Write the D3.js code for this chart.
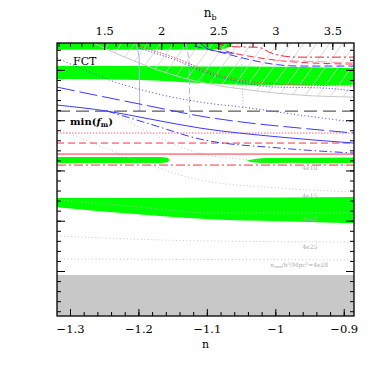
<!DOCTYPE html>
<html>
<head>
<meta charset="utf-8">
<script src="https://cdn.jsdelivr.net/npm/d3@7"></script>
<style>
  body { margin: 0; background: #fff; }
  text { font-family: "DejaVu Serif", serif; }
</style>
</head>
<body>
<div id="chart"></div>
<script>
// axis ranges (n on the bottom, n_b = 6n + 9 on top, y has no labels)
const nRange = [-1.319, -0.885];
const yRange = [0.105, 5.535];
const nTicks = [-1.3, -1.2, -1.1, -1.0, -0.9];
const nbTicks = [1.5, 2, 2.5, 3, 3.5];
const yTicks = [1, 2, 3, 4, 5];

// excluded region at the bottom
const greyTop = 0.92;

// allowed regions (green): [n, low, high]
const greenTop = [[-1.319, 5.40, 5.535], [-1.10, 5.40, 5.535], [-1.075, 5.42, 5.535], [-1.064, 5.47, 5.535]];
const greenBand2 = [[-1.319, 4.82, 5.08], [-1.198, 4.80, 5.08], [-1.110, 4.74, 5.07], [-1.037, 4.70, 5.07], [-0.964, 4.69, 5.06], [-0.885, 4.70, 5.04]];
const greenBand3a = [[-1.319, 3.15, 3.27], [-1.175, 3.15, 3.27], [-1.163, 3.155, 3.265], [-1.157, 3.17, 3.25], [-1.155, 3.21, 3.21]];
const greenBand3b = [[-1.041, 3.19, 3.20], [-1.030, 3.16, 3.23], [-1.010, 3.15, 3.25], [-0.885, 3.15, 3.26]];
const greenBand4 = [[-1.319, 2.27, 2.45], [-1.256, 2.19, 2.45], [-1.183, 2.11, 2.45], [-1.096, 2.03, 2.46], [-0.993, 1.99, 2.46], [-0.885, 1.95, 2.47]];

// lower edge of the hatched region
const hatchEdge = [[-1.266, 5.535], [-1.227, 5.294], [-1.183, 5.056], [-1.139, 4.857], [-1.096, 4.718], [-1.037, 4.598], [-0.964, 4.499], [-0.885, 4.459]];

// light blue near-vertical curves
const lightBlueSolid = [[-1.204, 5.535], [-1.201, 5.39], [-1.199, 5.27], [-1.198, 4.18]];
const lightBlueDashed = [[-1.131, 5.535], [-1.128, 5.35], [-1.126, 5.19], [-1.125, 4.04]];
const lightBlueDotted = [[-1.050, 5.23], [-1.047, 4.24]];

// curves near the top
const redDottedTop = [[-1.198, 5.47], [-1.139, 5.20], [-1.096, 4.96], [-1.052, 4.80], [-0.993, 4.72], [-0.885, 4.68]];
const blueDottedTop = [[-1.198, 5.43], [-1.139, 5.16], [-1.096, 4.92], [-1.052, 4.76], [-1.004, 4.66], [-0.931, 4.64], [-0.885, 4.58]];
const redDashDotTop = [[-1.088, 5.535], [-1.060, 5.46], [-1.025, 5.45], [-1.005, 5.33], [-0.969, 5.254], [-0.885, 5.254]];
const redDashedTop = [[-1.088, 5.45], [-1.066, 5.35], [-1.037, 5.27], [-0.969, 5.155], [-0.885, 5.115]];
const pinkDashedTop = [[-1.0, 5.19], [-0.885, 5.14]];
const blueDashedTop = [[-1.118, 5.47], [-1.081, 5.354], [-1.047, 5.234], [-1.004, 5.115], [-0.964, 5.076], [-0.885, 5.076]];
const blueSolidTop = [[-1.110, 5.535], [-1.100, 5.43], [-1.085, 5.37], [-1.06, 5.33]];

// main blue family
const blueDotted = [[-1.319, 5.234], [-1.285, 5.036], [-1.242, 4.797], [-1.183, 4.559], [-1.110, 4.360], [-1.037, 4.241], [-0.964, 4.101], [-0.885, 3.962]];
const blueLongDash = [[-1.319, 4.658], [-1.256, 4.479], [-1.183, 4.280], [-1.110, 4.082], [-1.037, 3.943], [-0.964, 3.843], [-0.885, 3.744]];
const blueSolid = [[-1.319, 4.300], [-1.246, 4.181], [-1.183, 4.022], [-1.110, 3.843], [-0.993, 3.664], [-0.885, 3.545]];
const blueDashDot = [[-1.246, 4.181], [-1.183, 3.923], [-1.110, 3.624], [-0.993, 3.445], [-0.885, 3.346]];

// horizontal levels
const blackDashedLevel = 4.18;
const redLevels = [3.744, 3.545, 3.326, 3.107]; // dotted, dashed, solid, dash-dot

// n_mm contours (grey dotted)
const contour10 = [[-1.242, 4.20], [-1.183, 3.75], [-1.110, 3.34], [-1.037, 3.21], [-0.964, 3.15], [-0.885, 3.09]];
const contour15 = [[-1.319, 3.843], [-1.256, 3.486], [-1.183, 3.108], [-1.110, 2.809], [-0.993, 2.650], [-0.885, 2.571]];
const contour20 = [[-1.319, 2.412], [-1.212, 2.29], [-1.096, 2.153], [-0.993, 2.153], [-0.885, 2.153]];
const contour25 = [[-1.319, 1.696], [-1.096, 1.596], [-0.885, 1.577]];
const contour28 = [[-1.319, 1.239], [-0.885, 1.219]];
const contourLabels = ["4e10", "4e15", "4e20", "4e25"];
const contourLabelPos = [[-0.9496, 3.008], [-0.9496, 2.451], [-0.9496, 1.994], [-0.9496, 1.437]];

const margin = { top: 43, right: 20, bottom: 58, left: 57 },
      width = 374 - margin.left - margin.right,
      height = 374 - margin.top - margin.bottom;

const svg = d3.select("#chart")
    .append("svg")
    .attr("width", 374)
    .attr("height", 374)
    .append("g")
    .attr("transform", `translate(${margin.left},${margin.top})`);

const x = d3.scaleLinear().domain(nRange).range([0, width]);
const xb = d3.scaleLinear().domain(nRange.map(n => 6 * n + 9)).range([0, width]);
const y = d3.scaleLinear().domain(yRange).range([height, 0]);

// clip + hatch pattern
const defs = svg.append("defs");
defs.append("clipPath").attr("id", "clip")
    .append("rect").attr("width", width).attr("height", height);
const pat = defs.append("pattern")
    .attr("id", "hatch")
    .attr("patternUnits", "userSpaceOnUse")
    .attr("width", 13).attr("height", 18);
pat.append("line")
    .attr("x1", -1).attr("y1", 19.4).attr("x2", 14).attr("y2", -1.4)
    .attr("stroke", "#cfcfcf").attr("stroke-width", 0.8);

const plot = svg.append("g").attr("clip-path", "url(#clip)");

const line = d3.line().x(d => x(d[0])).y(d => y(d[1])).curve(d3.curveMonotoneX);
const vline = d3.line().x(d => x(d[0])).y(d => y(d[1]));
const band = d3.area().x(d => x(d[0])).y0(d => y(d[1])).y1(d => y(d[2])).curve(d3.curveMonotoneX);

// grey excluded region
plot.append("rect")
    .attr("x", 0).attr("y", y(greyTop))
    .attr("width", width).attr("height", height - y(greyTop))
    .attr("fill", "#c8c8c8");

// green regions
[greenTop, greenBand2, greenBand3a, greenBand3b, greenBand4].forEach(b => {
    plot.append("path").datum(b).attr("d", band).attr("fill", "#00ff00");
});

// hatched region above the grey edge
const hatchArea = d3.area().x(d => x(d[0])).y0(d => y(d[1])).y1(y(yRange[1])).curve(d3.curveMonotoneX);
plot.append("path").datum(hatchEdge)
    .attr("d", hatchArea)
    .attr("fill", "url(#hatch)");
plot.append("path").datum(hatchEdge).attr("d", line)
    .attr("fill", "none").attr("stroke", "#c8c8c8").attr("stroke-width", 1);

// grey contours
[contour10, contour15, contour20, contour25, contour28].forEach(c => {
    plot.append("path").datum(c).attr("d", line)
        .attr("fill", "none").attr("stroke", "#bdbdbd")
        .attr("stroke-width", 0.9).attr("stroke-dasharray", "1,2.5");
});

// light blue curves
const lightBlue = "#aab0ff";
[[lightBlueSolid, null], [lightBlueDashed, "6,3"], [lightBlueDotted, "1,2"]].forEach(([c, dash]) => {
    plot.append("path").datum(c).attr("d", vline)
        .attr("fill", "none").attr("stroke", lightBlue)
        .attr("stroke-width", 1).attr("stroke-dasharray", dash);
});

// horizontal lines
const redDash = ["1.5,1.5", "7,4", null, "9,3,2,3"];
redLevels.forEach((v, i) => {
    plot.append("line")
        .attr("x1", 0).attr("x2", width)
        .attr("y1", y(v)).attr("y2", y(v))
        .attr("stroke", i === 0 ? "#ff6680" : "#ff3040")
        .attr("stroke-width", 1)
        .attr("stroke-dasharray", redDash[i]);
});
plot.append("line")
    .attr("x1", 0).attr("x2", width)
    .attr("y1", y(blackDashedLevel)).attr("y2", y(blackDashedLevel))
    .attr("stroke", "#333").attr("stroke-width", 1)
    .attr("stroke-dasharray", "13,6");

// coloured curves
const curves = [
    { d: redDottedTop, c: "#ff4060", dash: "1.5,1.5" },
    { d: blueDottedTop, c: "#3a3aff", dash: "1,2" },
    { d: redDashDotTop, c: "#e8203c", dash: "9,3,2,3" },
    { d: redDashedTop, c: "#ff3040", dash: "7,4" },
    { d: pinkDashedTop, c: "#ff9aa8", dash: "10,4" },
    { d: blueDashedTop, c: "#3a3aff", dash: "8,4" },
    { d: blueSolidTop, c: "#3a3aff", dash: null },
    { d: blueDotted, c: "#3a3aff", dash: "1,2.5" },
    { d: blueLongDash, c: "#3a3aff", dash: "18,5" },
    { d: blueSolid, c: "#3a3aff", dash: null },
    { d: blueDashDot, c: "#3a3aff", dash: "8,3,1.5,3" }
];
curves.forEach(s => {
    plot.append("path").datum(s.d).attr("d", line)
        .attr("fill", "none").attr("stroke", s.c)
        .attr("stroke-width", 1).attr("stroke-dasharray", s.dash);
});

// contour labels
contourLabels.forEach((t, i) => {
    plot.append("text")
        .attr("x", x(contourLabelPos[i][0])).attr("y", y(contourLabelPos[i][1]))
        .attr("text-anchor", "middle")
        .style("font-size", "6px").attr("fill", "#aaa")
        .text(t);
});
const nmm = plot.append("text")
    .attr("x", x(-0.965)).attr("y", y(1.08))
    .attr("text-anchor", "middle")
    .style("font-size", "6px").attr("fill", "#aaa");
nmm.append("tspan").text("n");
nmm.append("tspan").attr("dy", 1.5).style("font-size", "4px").text("mm");
nmm.append("tspan").attr("dy", -1.5).text("/h");
nmm.append("tspan").attr("dy", -2).style("font-size", "4px").text("3");
nmm.append("tspan").attr("dy", 2).text("/Mpc");
nmm.append("tspan").attr("dy", -2).style("font-size", "4px").text("3");
nmm.append("tspan").attr("dy", 2).text("=4e28");

// labels inside the plot
svg.append("text")
    .attr("x", x(-1.2956)).attr("y", y(5.095))
    .style("font-size", "11px")
    .text("FCT");
const mf = svg.append("text")
    .attr("x", x(-1.3)).attr("y", y(3.90))
    .style("font-size", "10px").style("font-weight", "bold");
mf.append("tspan").text("min(");
mf.append("tspan").style("font-style", "italic").text("f");
mf.append("tspan").attr("dy", 2).style("font-size", "7px").text("m");
mf.append("tspan").attr("dy", -2).text(")");

// axes: major and minor ticks on all four sides
const fmt = d3.format("~g");
const nMinor = d3.range(-132, -87).filter(k => k % 2 === 0).map(k => k / 100).filter(v => v >= nRange[0] && v <= nRange[1]);
const nbMinor = d3.range(10, 38).map(k => k / 10).filter(v => v >= xb.domain()[0] && v <= xb.domain()[1]);
const yMinor = d3.range(1, 28).map(k => k / 5);

function ticks(g) { g.select(".domain").remove(); g.selectAll("line").attr("stroke", "#000"); }

svg.append("g").attr("transform", `translate(0,${height})`)
    .call(d3.axisBottom(x).tickValues(nMinor).tickSize(-4).tickFormat("")).call(ticks);
svg.append("g").attr("transform", `translate(0,${height})`)
    .call(d3.axisBottom(x).tickValues(nTicks).tickSize(-7).tickPadding(9).tickFormat(fmt))
    .call(ticks)
    .selectAll("text").style("font-size", "11.5px").style("font-family", "DejaVu Serif").attr("fill", "#000");

svg.append("g")
    .call(d3.axisTop(xb).tickValues(nbMinor).tickSize(-4).tickFormat("")).call(ticks);
svg.append("g")
    .call(d3.axisTop(xb).tickValues(nbTicks).tickSize(-7).tickPadding(8).tickFormat(fmt))
    .call(ticks)
    .selectAll("text").style("font-size", "11.5px").style("font-family", "DejaVu Serif").attr("fill", "#000");

svg.append("g")
    .call(d3.axisLeft(y).tickValues(yMinor).tickSize(-4).tickFormat("")).call(ticks);
svg.append("g")
    .call(d3.axisLeft(y).tickValues(yTicks).tickSize(-8).tickFormat("")).call(ticks);
svg.append("g").attr("transform", `translate(${width},0)`)
    .call(d3.axisRight(y).tickValues(yMinor).tickSize(-4).tickFormat("")).call(ticks);
svg.append("g").attr("transform", `translate(${width},0)`)
    .call(d3.axisRight(y).tickValues(yTicks).tickSize(-8).tickFormat("")).call(ticks);

// frame
svg.append("rect")
    .attr("width", width).attr("height", height)
    .attr("fill", "none").attr("stroke", "#000").attr("stroke-width", 1.3);

// axis titles
svg.append("text")
    .attr("x", width / 2).attr("y", height + 32)
    .attr("text-anchor", "middle")
    .style("font-size", "11px")
    .text("n");
const nb = svg.append("text")
    .attr("x", xb(2.43)).attr("y", -26)
    .attr("text-anchor", "middle")
    .style("font-size", "12px");
nb.append("tspan").text("n");
nb.append("tspan").attr("dy", 3).style("font-size", "8px").text("b");
</script>
</body>
</html>
